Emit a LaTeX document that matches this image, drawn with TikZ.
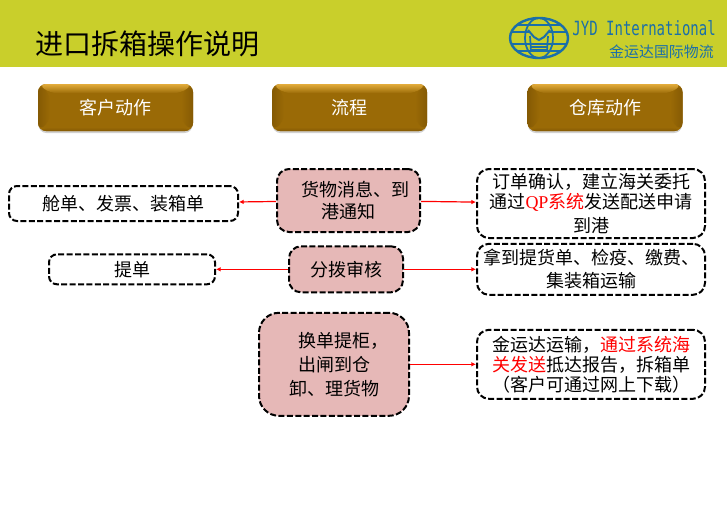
\documentclass[tikz,border=0pt]{standalone}
\usepackage{fontspec}
\setmainfont{Noto Sans CJK SC}
\newfontfamily\latinfont{Liberation Serif}
\newfontfamily\logofont{DejaVu Sans Mono}
\usetikzlibrary{arrows.meta}
\usetikzlibrary{calc}
\definecolor{bandgreen}{HTML}{C9CF2B}
\definecolor{logoblue}{HTML}{1B6FA8}
\definecolor{boxpink}{HTML}{E6B8B7}
\definecolor{btnbase}{HTML}{9A6A06}
\definecolor{btnlight}{HTML}{E3AC3C}
\definecolor{btndark}{HTML}{855A04}
\tikzset{
  wh/.style 2 args={minimum width=#1*.75pt, minimum height=#2*.75pt},
  body/.style={font=\fontsize{13.5}{15}\selectfont, align=center, inner sep=0pt},
  flowbox/.style={body, draw=black, line width=1.5pt, dash pattern=on 4.5pt off 1.8pt, rounded corners=#1},
  flowbox/.default=6pt,
  pinkbox/.style={flowbox=#1, fill=boxpink},
  pinkbox/.default=9pt,
  conn/.style={draw=red, line width=.9pt, -{Latex[length=3.5pt,width=3.5pt]}},
  button/.style={wh={155}{47}, rounded corners=6pt, text=white, inner sep=0pt,
    font=\fontsize{13.5}{15}\selectfont, fill=btnbase,
    path picture={
      \coordinate (nw) at (path picture bounding box.north west);
      \coordinate (ne) at (path picture bounding box.north east);
      \coordinate (sw) at (path picture bounding box.south west);
      \coordinate (se) at (path picture bounding box.south east);
      % side and bottom bevels
      \shade[left color=btndark, right color=btnbase] (nw) -- ($(nw)+(9pt,-7pt)$) -- ($(sw)+(9pt,7pt)$) -- (sw) -- cycle;
      \shade[right color=btndark, left color=btnbase] (ne) -- ($(ne)+(-9pt,-7pt)$) -- ($(se)+(-9pt,7pt)$) -- (se) -- cycle;
      \shade[top color=btnbase, bottom color=btndark] (sw) -- ($(sw)+(9pt,3pt)$) -- ($(se)+(-9pt,3pt)$) -- (se) -- cycle;
      % top bevel
      \shade[top color=btnlight, bottom color=btnbase] (nw) -- (ne) -- ($(ne)+(-9pt,-7pt)$) -- ($(nw)+(9pt,-7pt)$) -- cycle;
    }},
  logoline/.style={logoblue, line width=1.3pt}
}
\begin{document}
\begin{tikzpicture}[x=.75pt, y=-.75pt, >=latex]
  \useasboundingbox (0,0) rectangle (727,512);
  % header band
  \fill[bandgreen] (0,0) rectangle (727,67);
  \node[anchor=west, inner sep=0pt, font=\fontsize{21}{24}\selectfont] (title) at (35,44) {进口拆箱操作说明};

  % logo
  \draw[logoblue, line width=1.8pt] (539,38) ellipse (29 and 20);
  \draw[logoline] (539,38) ellipse (14 and 20);
  \foreach \yy/\xx in {25/22, 32/28, 44/28, 51/22}
    \draw[logoline] (539-\xx,\yy) -- (539+\xx,\yy);
  \fill[bandgreen] (530,31) rectangle (548,51);
  \draw[logoblue, line width=1.5pt] (528,30) -- (534,37) -- (539,40) -- (544,37) -- (550,30);
  \draw[logoline] (530,36) -- (531,51) (548,36) -- (547,51);
  \foreach \yy in {44,47,50}
    \draw[logoblue, line width=.8pt] (531,\yy) -- (547,\yy);
  \node[anchor=east, inner sep=0pt, text=logoblue, font=\logofont\fontsize{10.5}{12}\selectfont] (brand) at (716,28) {\scalebox{1}[1.4]{JYD International}};
  \node[anchor=east, inner sep=0pt, text=logoblue, font=\fontsize{11.2}{13}\selectfont] (brandcn) at (714,52) {金运达国际物流};

  % column heads
  \foreach \cx/\nm/\txt in {115.5/headcust/客户动作, 349.5/headflow/流程, 605/headstore/仓库动作}{
    \fill[black!18, rounded corners=6pt] (\cx-77,88) rectangle (\cx+77,133);
    \node[button] (\nm) at (\cx,107.5) {\txt};
  }

  % middle column
  \node[pinkbox, wh={143}{63}] (cargo) at (348.5,200.5) {\hspace*{.8em}货物消息、到\\[2pt]港通知};
  \node[pinkbox, wh={114}{46}] (review) at (346,269.3) {分拨审核};
  \node[pinkbox=15pt, wh={150}{103}] (swap) at (334,364.3) {\hspace*{1em}换单提柜，\\[3pt]出闸到仓\\[3pt]卸、理货物};

  % customer column
  \node[flowbox, wh={229}{35}] (docs) at (123.5,203.5) {舱单、发票、装箱单};
  \node[flowbox, wh={166}{30}] (lading) at (132,269.3) {提单};

  % warehouse column
  \node[flowbox=9pt, wh={228}{69}] (order) at (591,203.5) {订单确认，建立海关委托\\通过{\color{red}{\latinfont QP}系统}发送配送申请\\[3pt]到港};
  \node[flowbox=9pt, wh={228}{51}] (pickup) at (591,269.3) {拿到提货单、检疫、缴费、\\[2pt]集装箱运输};
  \node[flowbox=9pt, wh={228}{69}] (report) at (591,364.3) {金运达运输，{\color{red}通过系统海}\\{\color{red}关发送}抵达报告，拆箱单\\（客户可通过网上下载）};

  % connectors
  \draw[conn] (cargo) -- (docs);
  \draw[conn] (cargo) -- (order);
  \draw[conn] (review) -- (lading);
  \draw[conn] (review) -- (pickup);
  \draw[conn] (swap) -- (report);
\end{tikzpicture}
\end{document}
